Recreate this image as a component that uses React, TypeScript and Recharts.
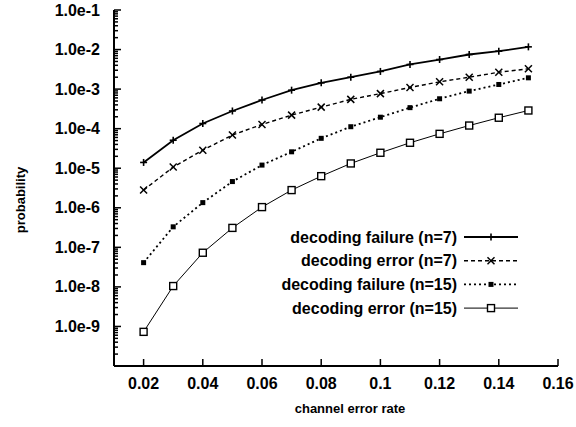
import { LineChart, Line, XAxis, YAxis, Legend } from 'recharts';

// channel error rate (x) and the four probability curves
const errorRates = [0.02, 0.03, 0.04, 0.05, 0.06, 0.07, 0.08, 0.09, 0.1, 0.11, 0.12, 0.13, 0.14, 0.15];
const failureN7 = [1.4e-5, 5.1e-5, 1.35e-4, 2.8e-4, 5.3e-4, 9.4e-4, 1.44e-3, 2.0e-3, 2.8e-3, 4.2e-3, 5.6e-3, 7.5e-3, 9.1e-3, 1.17e-2];
const errorN7 = [2.8e-6, 1.07e-5, 2.86e-5, 6.9e-5, 1.28e-4, 2.2e-4, 3.5e-4, 5.5e-4, 7.7e-4, 1.1e-3, 1.53e-3, 2.0e-3, 2.67e-3, 3.26e-3];
const failureN15 = [4.1e-8, 3.3e-7, 1.35e-6, 4.6e-6, 1.2e-5, 2.6e-5, 5.7e-5, 1.12e-4, 1.95e-4, 3.4e-4, 5.7e-4, 8.9e-4, 1.31e-3, 1.93e-3];
const errorN15 = [7.3e-10, 1.05e-8, 7.3e-8, 3.1e-7, 1.04e-6, 2.8e-6, 6.3e-6, 1.32e-5, 2.46e-5, 4.4e-5, 7.4e-5, 1.2e-4, 1.89e-4, 2.88e-4];

const xTicks = [0.02, 0.04, 0.06, 0.08, 0.1, 0.12, 0.14, 0.16];
const xTickLabels = ['0.02', '0.04', '0.06', '0.08', '0.1', '0.12', '0.14', '0.16'];
const yExponents = [-10, -9, -8, -7, -6, -5, -4, -3, -2, -1];
const yTickLabels = ['', '1.0e-9', '1.0e-8', '1.0e-7', '1.0e-6', '1.0e-5', '1.0e-4', '1.0e-3', '1.0e-2', '1.0e-1'];

const FONT = '"Liberation Sans", Arial, Helvetica, sans-serif';

const data = errorRates.map((p, i) => ({
  p,
  failureN7: failureN7[i],
  errorN7: errorN7[i],
  failureN15: failureN15[i],
  errorN15: errorN15[i],
}));

// decade ticks plus 2..9 minor ticks for the log axis
const majorTicks = yExponents.map((e) => Math.pow(10, e));
const minorTicks: number[] = [];
yExponents.slice(0, -1).forEach((e) => {
  for (let m = 2; m <= 9; m++) minorTicks.push(m * Math.pow(10, e));
});
const yTicks = [...majorTicks, ...minorTicks];

function isMajor(v: number) {
  const e = Math.round(Math.log10(v));
  return Math.abs(v - Math.pow(10, e)) < v * 1e-6;
}

// eslint-disable-next-line @typescript-eslint/no-explicit-any
function LeftTick(props: any) {
  const { x, y, payload } = props;
  const v = payload.value as number;
  const major = isMajor(v);
  const label = major ? yTickLabels[yExponents.indexOf(Math.round(Math.log10(v)))] : '';
  return (
    <g>
      <line x1={x} x2={x + (major ? 7 : 4)} y1={y} y2={y} stroke="#000" strokeWidth={1.5} />
      {label && (
        <text x={x - 14} y={y} dy={5.5} textAnchor="end" fontSize={16} fontWeight="bold" fontFamily={FONT} fill="#000">
          {label}
        </text>
      )}
    </g>
  );
}

// eslint-disable-next-line @typescript-eslint/no-explicit-any
function RightTick(props: any) {
  const { x, y, payload } = props;
  const major = isMajor(payload.value);
  return <line x1={x - (major ? 7 : 4)} x2={x} y1={y} y2={y} stroke="#000" strokeWidth={1.5} />;
}

// eslint-disable-next-line @typescript-eslint/no-explicit-any
function BottomTick(props: any) {
  const { x, y, payload, index } = props;
  return (
    <g>
      <line x1={x} x2={x} y1={y - 7} y2={y} stroke="#000" strokeWidth={1.5} />
      <text x={x} y={y + 23} textAnchor="middle" fontSize={16} fontWeight="bold" fontFamily={FONT} fill="#000">
        {xTickLabels[index] ?? String(payload.value)}
      </text>
    </g>
  );
}

// eslint-disable-next-line @typescript-eslint/no-explicit-any
function TopTick(props: any) {
  const { x, y } = props;
  return <line x1={x} x2={x} y1={y} y2={y + 7} stroke="#000" strokeWidth={1.5} />;
}

type MarkerKind = 'plus' | 'cross' | 'filled' | 'open';

function Marker({ cx, cy, kind }: { cx: number; cy: number; kind: MarkerKind }) {
  if (cx == null || cy == null) return null;
  if (kind === 'plus') {
    return (
      <g stroke="#000" strokeWidth={1.6}>
        <line x1={cx - 3.5} x2={cx + 3.5} y1={cy} y2={cy} />
        <line x1={cx} x2={cx} y1={cy - 3.5} y2={cy + 3.5} />
      </g>
    );
  }
  if (kind === 'cross') {
    return (
      <g stroke="#000" strokeWidth={1.5}>
        <line x1={cx - 3.5} x2={cx + 3.5} y1={cy - 3.5} y2={cy + 3.5} />
        <line x1={cx - 3.5} x2={cx + 3.5} y1={cy + 3.5} y2={cy - 3.5} />
      </g>
    );
  }
  if (kind === 'filled') {
    return <rect x={cx - 2.5} y={cy - 2.5} width={5} height={5} fill="#000" />;
  }
  return <rect x={cx - 3.5} y={cy - 3.5} width={7} height={7} fill="#fff" stroke="#000" strokeWidth={1.4} />;
}

const series = [
  { key: 'failureN7', name: 'decoding failure (n=7)', dash: undefined, width: 1.8, marker: 'plus' as MarkerKind },
  { key: 'errorN7', name: 'decoding error (n=7)', dash: '4 3', width: 1.4, marker: 'cross' as MarkerKind },
  { key: 'failureN15', name: 'decoding failure (n=15)', dash: '2 3', width: 1.8, marker: 'filled' as MarkerKind },
  { key: 'errorN15', name: 'decoding error (n=15)', dash: undefined, width: 1, marker: 'open' as MarkerKind },
];

// legend keeps the plotting order of the series
function LegendBox() {
  return (
    <svg width={290} height={100} style={{ overflow: 'visible' }}>
      {series.map((s, i) => {
        const y = 12 + i * 23.7;
        return (
          <g key={s.key}>
            <text x={207} y={y} dy={5.5} textAnchor="end" fontSize={16} fontWeight="bold" fontFamily={FONT} fill="#000">
              {s.name}
            </text>
            <line x1={214} x2={268} y1={y} y2={y} stroke="#000" strokeWidth={s.width} strokeDasharray={s.dash} />
            <Marker cx={241} cy={y} kind={s.marker} />
          </g>
        );
      })}
    </svg>
  );
}

export default function App() {
  return (
    <div style={{ position: 'absolute', left: 0, top: 0, width: 576, height: 427, background: '#fff' }}>
      <LineChart width={576} height={427} data={data} margin={{ top: 10, right: 18, bottom: 11, left: 14 }}>
        <XAxis
          dataKey="p"
          type="number"
          domain={[0.01, 0.16]}
          ticks={xTicks}
          allowDataOverflow
          axisLine={{ stroke: '#000', strokeWidth: 2 }}
          tickLine={false}
          tickSize={0}
          tickMargin={0}
          height={50}
          tick={<BottomTick />}
          label={{
            // eslint-disable-next-line @typescript-eslint/no-explicit-any
            content: (p: any) => (
              <text
                x={p.viewBox.x + p.viewBox.width / 2 + 14}
                y={p.viewBox.y + 47}
                textAnchor="middle"
                fontSize={13}
                fontWeight="bold"
                fontFamily={FONT}
                fill="#000"
              >
                channel error rate
              </text>
            ),
          }}
        />
        <XAxis
          xAxisId="top"
          dataKey="p"
          type="number"
          orientation="top"
          domain={[0.01, 0.16]}
          ticks={xTicks}
          allowDataOverflow
          axisLine={{ stroke: '#000', strokeWidth: 2 }}
          tickLine={false}
          tickSize={0}
          tickMargin={0}
          height={0}
          tick={<TopTick />}
        />
        <YAxis
          type="number"
          scale="log"
          domain={[1e-10, 1e-1]}
          ticks={yTicks}
          interval={0}
          allowDataOverflow
          axisLine={{ stroke: '#000', strokeWidth: 2 }}
          tickLine={false}
          tickSize={0}
          tickMargin={0}
          width={100}
          tick={<LeftTick />}
          label={{
            // eslint-disable-next-line @typescript-eslint/no-explicit-any
            content: (p: any) => {
              const x = p.viewBox.x + 6;
              const y = p.viewBox.y + p.viewBox.height / 2 + 12;
              return (
                <text
                  x={x}
                  y={y}
                  transform={`rotate(-90 ${x} ${y})`}
                  textAnchor="middle"
                  dy={5}
                  fontSize={13}
                  fontWeight="bold"
                  fontFamily={FONT}
                  fill="#000"
                >
                  probability
                </text>
              );
            },
          }}
        />
        <YAxis
          yAxisId="right"
          orientation="right"
          type="number"
          scale="log"
          domain={[1e-10, 1e-1]}
          ticks={yTicks}
          interval={0}
          allowDataOverflow
          axisLine={{ stroke: '#000', strokeWidth: 2 }}
          tickLine={false}
          tickSize={0}
          tickMargin={0}
          width={0}
          tick={<RightTick />}
        />
        <Legend
          layout="vertical"
          align="center"
          verticalAlign="middle"
          content={<LegendBox />}
          wrapperStyle={{ left: 250, top: 225, width: 290 }}
        />
        {series.map((s) => (
          <Line
            key={s.key}
            dataKey={s.key}
            name={s.name}
            stroke="#000"
            strokeWidth={s.width}
            strokeDasharray={s.dash}
            // eslint-disable-next-line @typescript-eslint/no-explicit-any
            dot={(p: any) => <Marker key={`${s.key}-${p.index}`} cx={p.cx} cy={p.cy} kind={s.marker} />}
            activeDot={false}
            isAnimationActive={false}
          />
        ))}
      </LineChart>
    </div>
  );
}
